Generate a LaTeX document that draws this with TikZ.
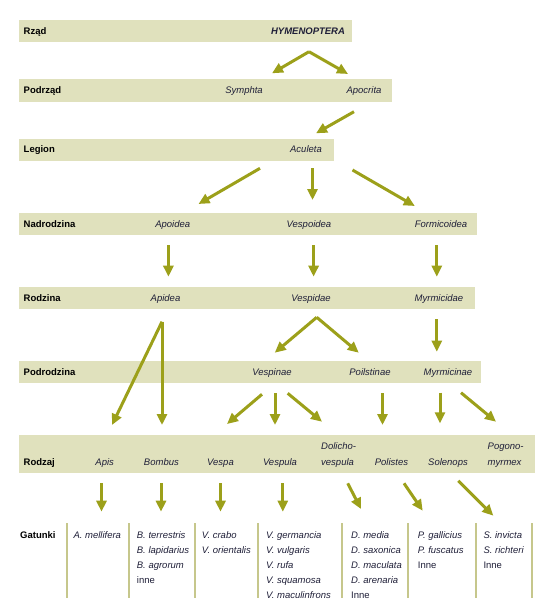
\documentclass[tikz,border=0pt]{standalone}
\usepackage{fontspec}
\setmainfont{Liberation Sans}
\usetikzlibrary{arrows.meta}

\definecolor{barfill}{HTML}{E0E1BD}
\definecolor{olivearrow}{HTML}{9CA01A}
\definecolor{colsep}{HTML}{C6C78C}
\definecolor{taxon}{HTML}{1F1F38}

\tikzset{
  bar/.style={fill=barfill},
  arr/.style={draw=olivearrow, line width=3pt, -{Triangle[length=11pt,width=10pt]}},
  rank/.style={anchor=base west, inner sep=0pt, font=\fontsize{9.5}{11}\selectfont\bfseries},
  taxname/.style={anchor=base, inner sep=0pt, text=taxon, font=\fontsize{9.5}{11}\selectfont\itshape},
  twoline/.style={anchor=north west, inner sep=0pt, align=left, text=taxon, font=\fontsize{9.5}{15.7}\selectfont\itshape},
  species/.style={anchor=north west, inner sep=0pt, align=left, text=taxon, font=\fontsize{9.5}{15}\selectfont},
  colline/.style={draw=colsep, line width=2pt},
}

\begin{document}
\begin{tikzpicture}[x=1pt, y=-1pt]
    \useasboundingbox (0,0) rectangle (549,608);

    % --- Rank bars ---
    \fill[bar] (19,20)    rectangle (352,41.7);
    \fill[bar] (19,79)    rectangle (392,101.7);
    \fill[bar] (19,139)   rectangle (333.5,160.7);
    \fill[bar] (19,213.3) rectangle (476.7,234.7);
    \fill[bar] (19,286.7) rectangle (475,309);
    \fill[bar] (19,361)   rectangle (480.5,383.3);
    \fill[bar] (19,435)   rectangle (534.5,472.7);

    % --- Rank labels ---
    \node[rank] (lRzad)   at (23.5,34.5)  {Rząd};
    \node[rank] (lPodrz)  at (23.5,93.5)  {Podrząd};
    \node[rank] (lLegion) at (23.5,152.8) {Legion};
    \node[rank] (lNadr)   at (23.5,227.8) {Nadrodzina};
    \node[rank] (lRodz)   at (23.5,301.8) {Rodzina};
    \node[rank] (lPodr)   at (23.5,375.2) {Podrodzina};
    \node[rank] (lRodzaj) at (23.5,465.2) {Rodzaj};
    \node[rank] (lGat)    at (20,538.5)   {Gatunki};

    % --- Taxa ---
    \node[taxname, font=\fontsize{9.5}{11}\selectfont\bfseries\itshape] (hym) at (308,34.5) {HYMENOPTERA};
    \node[taxname] (symphta)  at (244,93.5)   {Symphta};
    \node[taxname] (apocrita) at (364,93.5)   {Apocrita};
    \node[taxname] (aculeta)  at (306,152.8)  {Aculeta};
    \node[taxname] (apoidea)  at (172.7,227.8) {Apoidea};
    \node[taxname] (vespoid)  at (309,227.8)  {Vespoidea};
    \node[taxname] (formic)   at (441,227.8)  {Formicoidea};
    \node[taxname] (apidea)   at (165.5,301.8) {Apidea};
    \node[taxname] (vespidae) at (311,301.8)  {Vespidae};
    \node[taxname] (myrmida)  at (439,301.8)  {Myrmicidae};
    \node[taxname] (vespinae) at (272,375.2)  {Vespinae};
    \node[taxname] (poilst)   at (370,375.2)  {Poilstinae};
    \node[taxname] (myrmina)  at (448,375.2)  {Myrmicinae};
    \node[taxname] (apis)     at (104.7,465.2) {Apis};
    \node[taxname] (bombus)   at (161.4,465.2) {Bombus};
    \node[taxname] (vespa)    at (220.5,465.2) {Vespa};
    \node[taxname] (vespula)  at (280,465.2)  {Vespula};
    \node[twoline] (dolicho)  at (321,442.6)  {Dolicho-\\vespula};
    \node[taxname] (polistes) at (391.5,465.2) {Polistes};
    \node[taxname] (solenops) at (448,465.2)  {Solenops};
    \node[twoline] (pogono)   at (487.5,442.7) {Pogono-\\myrmex};

    % --- Arrow end points ---
    \foreach \n/\x/\y in {
        a1/309/51.7, a1l/272/73.3, a1r/348/74,
        a2/354/111.7, a2e/316/133.3,
        a3l/260/168.3, a3le/198.5/204, a3m/312.5/168.3, a3me/312.5/200, a3r/352.5/170, a3re/414.8/206,
        a4l/168.4/245, a4le/168.4/276.7, a4m/313.6/245, a4me/313.6/276.7, a4r/436.8/245, a4re/436.8/276.7,
        a5/162/321.7, a5l/112/425, a5d/162/425,
        a5v/316.75/317.3, a5vl/274.75/352.7, a5vr/358.75/352.7,
        a5m/436.8/319.3, a5me/436.8/351.7,
        a6a/262/394.3, a6ae/227/424, a6b/275/393.3, a6be/275/425, a6c/287.7/393.3, a6ce/322/421.7,
        a6d/382.5/393.3, a6de/382.5/425,
        a6e/440/392.7, a6ee/440/423.3, a6f/461/392.7, a6fe/496/421.7,
        a7a/101.5/483.3, a7ae/101.5/511.7, a7b/161/483.3, a7be/161/511.7,
        a7c/220.5/483.3, a7ce/220.5/511.7, a7d/282.8/483.3, a7de/282.8/511.7,
        a7e/347.7/483.3, a7ee/361/509, a7f/404/483.3, a7fe/422.7/510.7,
        a7g/458.3/480.7, a7ge/493.3/515.7}
      \coordinate (\n) at (\x,\y);

    % --- Arrows ---
    \foreach \s/\e in {a1/a1l, a1/a1r, a2/a2e,
        a3l/a3le, a3m/a3me, a3r/a3re,
        a4l/a4le, a4m/a4me, a4r/a4re,
        a5/a5l, a5/a5d, a5v/a5vl, a5v/a5vr, a5m/a5me,
        a6a/a6ae, a6b/a6be, a6c/a6ce, a6d/a6de, a6e/a6ee, a6f/a6fe,
        a7a/a7ae, a7b/a7be, a7c/a7ce, a7d/a7de, a7e/a7ee, a7f/a7fe, a7g/a7ge}
      \draw[arr] (\s) -- (\e);

    % --- Species columns ---
    \foreach \x in {66.7, 129.3, 195, 258.3, 341.7, 408.3, 476, 531.7}
      \draw[colline] (\x,523.3) -- (\x,598.3);

    \node[species] (spApis) at (73.3,531.6)  {\textit{A. mellifera}};
    \node[species] (spBomb) at (136.7,531.6) {\textit{B. terrestris}\\\textit{B. lapidarius}\\\textit{B. agrorum}\\inne};
    \node[species] (spVesp) at (201.7,531.6) {\textit{V. crabo}\\\textit{V. orientalis}};
    \node[species] (spVspl) at (266,531.6)   {\textit{V. germancia}\\\textit{V. vulgaris}\\\textit{V. rufa}\\\textit{V. squamosa}\\\textit{V. maculinfrons}};
    \node[species] (spDoli) at (351,531.6)   {\textit{D. media}\\\textit{D. saxonica}\\\textit{D. maculata}\\\textit{D. arenaria}\\Inne};
    \node[species] (spPoli) at (417.7,531.6) {\textit{P. gallicius}\\\textit{P. fuscatus}\\Inne};
    \node[species] (spSole) at (483.3,531.6) {\textit{S. invicta}\\\textit{S. richteri}\\Inne};

\end{tikzpicture}
\end{document}
